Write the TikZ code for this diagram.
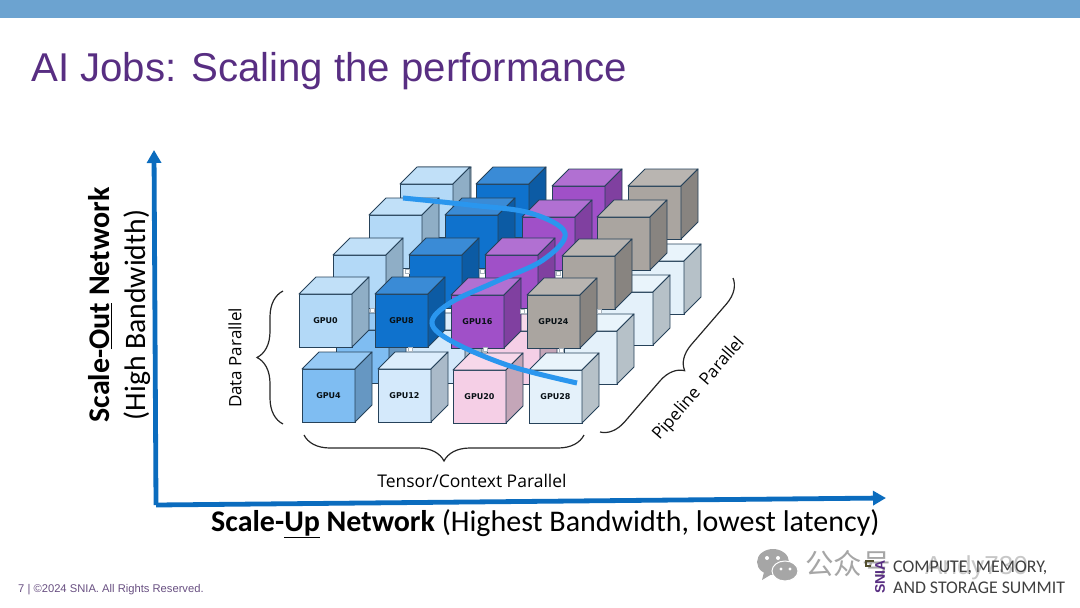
\documentclass[tikz,border=0pt]{standalone}
\usepackage{fontspec}
\usepackage{xcolor}
\usepackage{tikz}
\usetikzlibrary{arrows.meta, decorations.pathreplacing}
\setmainfont{Carlito}
\newfontfamily\titlefont{Liberation Sans}
\newfontfamily\labelfont{Open Sans}
\newfontfamily\gpufont{DejaVu Sans}
\newfontfamily\cjkfont{Noto Sans CJK SC}
\definecolor{barblue}{RGB}{108,163,208}
\definecolor{titlepurple}{RGB}{88,46,130}
\definecolor{axisblue}{RGB}{11,108,190}
\definecolor{curveblue}{RGB}{42,150,238}
\definecolor{cubeline}{RGB}{38,66,90}
\definecolor{skyblue}{RGB}{179,217,247}
\definecolor{midblue}{RGB}{127,189,242}
\definecolor{paleblue}{RGB}{212,233,251}
\definecolor{iceblue}{RGB}{228,241,250}
\definecolor{deepblue}{RGB}{15,114,205}
\definecolor{gpupurple}{RGB}{160,80,200}
\definecolor{gpupink}{RGB}{245,207,230}
\definecolor{gpugray}{RGB}{170,165,160}
\tikzstyle{cubeface} = [rectangle, minimum width=53pt, minimum height=53pt, inner sep=0pt, outer sep=0pt, anchor=north west, draw=cubeline, line width=0.9pt, font=\gpufont\bfseries\fontsize{8}{9}\selectfont, text=black!75!cubeline]
\tikzstyle{cubeedge} = [draw=cubeline, line width=0.9pt, line join=round]
\tikzstyle{linkbox} = [rectangle, minimum width=4pt, minimum height=4pt, inner sep=0pt, draw=cubeline!40, line width=0.4pt, fill=white]
\tikzstyle{axis} = [line width=4.8pt, draw=axisblue, -{Triangle[length=13pt,width=14pt]}]
\tikzstyle{bracket} = [decorate, line width=1.2pt, draw=black!85]
\newcommand{\gpucube}[5]{
  \node[cubeface, fill=#4] (#1) at (#2,#3) {#5};
  \draw[cubeedge, fill=#4!82!white] (#1.north west) -- ++(17,-17) -- ++(53,0) -- (#1.north east) -- cycle;
  \draw[cubeedge, fill=#4!80!black] (#1.north east) -- ++(17,-17) -- ++(0,53) -- (#1.south east) -- cycle;
}
\begin{document}
\begin{tikzpicture}[x=1pt, y=-1pt]
\useasboundingbox (0,0) rectangle (1080,608);

% Slide header
\fill[barblue] (0,0) rectangle (1080,18);
\node (title) [anchor=base west, inner sep=0pt, text=titlepurple, font=\titlefont\fontsize{40.2}{44}\selectfont] at (31,81) {AI Jobs: Scaling the performance};

% Axes
\coordinate (origin) at (156,505);
\coordinate (outtip) at (154,150);
\coordinate (uptip) at (886,498);
\draw [axis] (origin) -- (outtip);
\draw [axis] (origin) -- (uptip);
\node (outlabel) [rotate=90, inner sep=0pt, font=\fontsize{30}{34}\selectfont] at (100,305) {\textbf{Scale-\underline{Out} Network}};
\node (outbw) [rotate=90, inner sep=0pt, font=\fontsize{29.7}{34}\selectfont] at (137,315) {(High Bandwidth)};
\node (uplabel) [anchor=base west, inner sep=0pt, font=\fontsize{30}{34}\selectfont] at (211,531) {\textbf{Scale-\underline{Up} Network} (Highest Bandwidth, lowest latency)};

% Back row
\gpucube{b4a}{401}{184}{iceblue}{}
\gpucube{b4d}{631}{261}{iceblue}{}
\gpucube{t4a}{400}{184}{skyblue}{}
\gpucube{t4b}{476}{184}{deepblue}{}
\gpucube{t4c}{552}{186}{gpupurple}{}
\gpucube{t4d}{628}{186}{gpugray}{}

% Third row
\gpucube{b3d}{600}{292}{iceblue}{}
\gpucube{t3a}{369}{215}{skyblue}{}
\gpucube{t3b}{445}{215}{deepblue}{}
\gpucube{t3c}{522}{217}{gpupurple}{}
\gpucube{t3d}{597}{217}{gpugray}{}

% Second row
\gpucube{b2a}{336}{330}{midblue}{}
\gpucube{b2b}{412}{330}{paleblue}{}
\gpucube{b2c}{487}{331}{gpupink}{}
\gpucube{b2d}{564}{331}{iceblue}{}
\gpucube{t2a}{333}{255}{skyblue}{}
\gpucube{t2b}{409}{255}{deepblue}{}
\gpucube{t2c}{485}{255}{gpupurple}{}
\gpucube{t2d}{562}{256}{gpugray}{}

% Front row
\gpucube{gpu0}{299}{294}{skyblue}{GPU0}
\gpucube{gpu8}{375}{294}{deepblue}{GPU8}
\gpucube{gpu16}{451}{295}{gpupurple}{GPU16}
\gpucube{gpu24}{527}{295}{gpugray}{GPU24}
\gpucube{gpu4}{302}{369}{midblue}{GPU4}
\gpucube{gpu12}{378}{369}{paleblue}{GPU12}
\gpucube{gpu20}{453}{370}{gpupink}{GPU20}
\gpucube{gpu28}{529}{370}{iceblue}{GPU28}

% Links seen between the cubes
\node (l1) [linkbox] at (372,310) {};
\node (l2) [linkbox] at (407,271) {};
\node (l3) [linkbox] at (482,271) {};
\node (l4) [linkbox] at (558,273) {};
\node (l5) [linkbox] at (410,349) {};
\node (l6) [linkbox] at (485,349) {};
\node (l7) [linkbox] at (522,311) {};
\node (l8) [linkbox] at (599,311) {};
\node (l9) [linkbox] at (561,350) {};

% Job path
\draw [curveblue, line width=5pt, line cap=butt] plot [smooth, tension=0.6] coordinates {(403,198) (470,205) (530,213) (565,233) (543,260) (495,282) (450,303) (432,323) (453,342) (510,366) (577,383)};

% Braces
\coordinate (dataend) at (283,424);
\coordinate (datestart) at (283,291);
\coordinate (tensorend) at (584,435);
\coordinate (tensorstart) at (304,435);
\coordinate (pipeend) at (733,278);
\coordinate (pipestart) at (600,432);
\draw [bracket, decoration={brace, amplitude=26pt}] (dataend) -- (datestart);
\draw [bracket, decoration={brace, amplitude=26pt}] (tensorend) -- (tensorstart);
\draw [bracket, decoration={brace, amplitude=24pt}] (pipeend) -- (pipestart);
\node (dataparallel) [rotate=90, inner sep=0pt, font=\labelfont\fontsize{17}{20}\selectfont] at (235,358) {Data Parallel};
\node (tensorparallel) [inner sep=0pt, font=\labelfont\fontsize{17.5}{20}\selectfont] at (472,481) {Tensor/Context Parallel};
\node (pipeparallel) [rotate=49, inner sep=0pt, font=\labelfont\fontsize{17}{20}\selectfont] at (699,389) {Pipeline\ \ Parallel};

% Footer
\node (footer) [anchor=base west, inner sep=0pt, text=titlepurple!60!gray, font=\titlefont\fontsize{11.2}{13}\selectfont] at (18,592) {7 | ©2024 SNIA. All Rights Reserved.};
\fill[black!35] (773,562) ellipse [x radius=16, y radius=13];
\fill[black!35] (764,572) -- (762,580) -- (772,574) -- cycle;
\fill[black!35, draw=white, line width=1pt] (785,571) ellipse [x radius=13, y radius=10];
\fill[white] (767,558) circle (2) (778,558) circle (2) (781,569) circle (1.6) (790,569) circle (1.6);
\node (wmark) [anchor=base west, inner sep=0pt, text=black!35, font=\cjkfont\fontsize{28.5}{30}\selectfont] at (805,574) {公众号};
\node (wmname) [anchor=base west, inner sep=0pt, text=black!22, font=\titlefont\fontsize{26}{30}\selectfont] at (925,574) {Andy730};
\draw[black!55!olive, line width=1.5pt] (871,566) -- (866,566) -- (866,561) -- (874,561);
\node (snia) [rotate=90, inner sep=0pt, text=titlepurple, font=\titlefont\bfseries\fontsize{14}{16}\selectfont] at (880,577) {SNIA};
\node (summit) [anchor=north west, inner sep=0pt, align=left, text=black!75, font=\fontsize{17.8}{21}\selectfont] at (893,561) {COMPUTE, MEMORY,\\AND STORAGE SUMMIT};
\end{tikzpicture}
\end{document}
